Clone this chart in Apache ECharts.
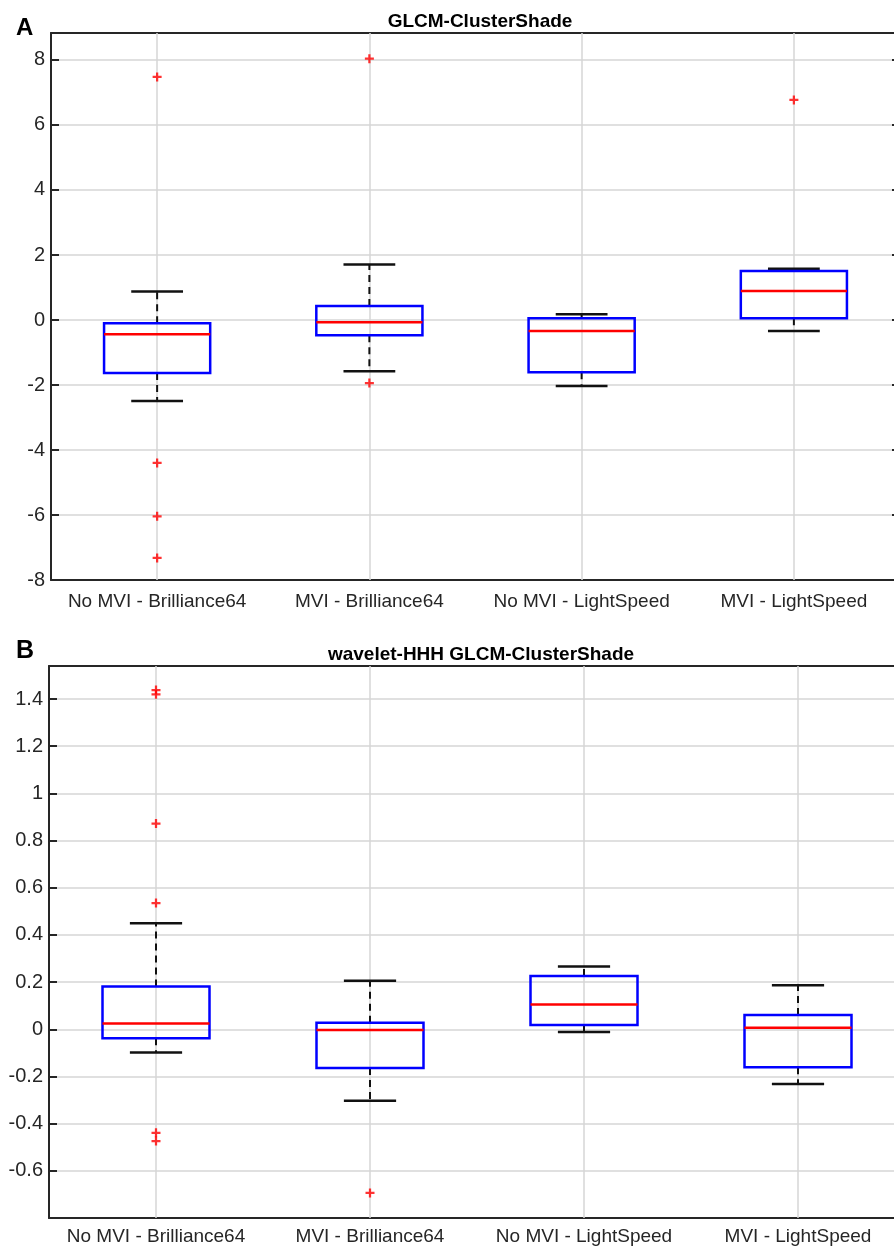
<!DOCTYPE html>
<html>
<head>
<meta charset="utf-8">
<script src="https://cdn.jsdelivr.net/npm/echarts@6/dist/echarts.min.js"></script>
<style>
  html, body { margin: 0; padding: 0; background: #fff; overflow: hidden; }
  #chart { width: 920px; height: 1253px; }
</style>
</head>
<body>
<div id="chart"></div>
<script>
// categories shared by both panels
const categories = ['No MVI - Brilliance64', 'MVI - Brilliance64', 'No MVI - LightSpeed', 'MVI - LightSpeed'];

// panel A: GLCM-ClusterShade  [lower whisker, Q1, median, Q3, upper whisker]
const boxA = [
  [-2.49, -1.63, -0.44, -0.10, 0.88],
  [-1.58, -0.47, -0.07, 0.43, 1.71],
  [-2.03, -1.61, -0.34, 0.05, 0.175],
  [-0.34, 0.05, 0.89, 1.51, 1.58]
];
const outliersA = [[0, 7.48], [0, -4.40], [0, -6.04], [0, -7.32], [1, 8.04], [1, -1.94], [3, 6.77]];
const yTicksA = { min: -8, max: 8.83, interval: 2 };

// panel B: wavelet-HHH GLCM-ClusterShade
const boxB = [
  [-0.098, -0.038, 0.024, 0.181, 0.45],
  [-0.303, -0.164, -0.003, 0.028, 0.206],
  [-0.011, 0.018, 0.105, 0.226, 0.266],
  [-0.232, -0.161, 0.006, 0.061, 0.187]
];
const outliersB = [[0, 1.438], [0, 1.42], [0, 0.872], [0, 0.535], [0, -0.439], [0, -0.474], [1, -0.694]];
const yTicksB = { min: -0.8, max: 1.54, interval: 0.2 };

const font = "'Liberation Sans', Arial, sans-serif";
const axisColor = '#262626';
const gridColor = '#d6d6d6';
const plus = 'path://M3,0H5V3H8V5H5V8H3V5H0V3H3Z';

function xAxes(gi, labelMargin) {
  return [
    {
      gridIndex: gi, type: 'category', data: categories, position: 'bottom', boundaryGap: true,
      axisLine: { onZero: false, lineStyle: { color: axisColor, width: 2 } },
      axisTick: { inside: true, alignWithLabel: true, length: 10, lineStyle: { color: axisColor, width: 2 } },
      axisLabel: { color: axisColor, fontSize: 19, fontFamily: font, margin: labelMargin, interval: 0 },
      splitLine: { show: false }
    },
    {
      gridIndex: gi, type: 'category', data: categories, position: 'top', boundaryGap: true,
      axisLine: { onZero: false, lineStyle: { color: axisColor, width: 2 } },
      axisTick: { inside: true, alignWithLabel: true, length: 10, lineStyle: { color: axisColor, width: 2 } },
      axisLabel: { show: false },
      splitLine: { show: false }
    }
  ];
}

function yAxes(gi, t) {
  return [
    {
      gridIndex: gi, type: 'value', min: t.min, max: t.max, interval: t.interval, position: 'left',
      axisLine: { show: true, onZero: false, lineStyle: { color: axisColor, width: 2 } },
      axisTick: { show: true, inside: true, length: 8, lineStyle: { color: axisColor, width: 2 } },
      axisLabel: { color: axisColor, fontSize: 20, fontFamily: font, margin: 6, showMaxLabel: false, showMinLabel: gi === 0 },
      splitLine: { show: true, lineStyle: { color: gridColor, width: 1.5 } }
    },
    {
      gridIndex: gi, type: 'value', min: t.min, max: t.max, interval: t.interval, position: 'right',
      axisLine: { show: true, onZero: false, lineStyle: { color: axisColor, width: 2 } },
      axisTick: { show: true, inside: true, length: 8, lineStyle: { color: axisColor, width: 2 } },
      axisLabel: { show: false },
      splitLine: { show: false }
    }
  ];
}

// box, median and whiskers drawn MATLAB style
function renderBox(params, api) {
  const x = api.value(0);
  const p = v => api.coord([x, v]);
  const lo = p(api.value(1)), q1 = p(api.value(2)), med = p(api.value(3)), q3 = p(api.value(4)), hi = p(api.value(5));
  const band = api.size([1, 0])[0];
  const bw = band * 0.25;
  const cw = band * 0.122;
  const cx = lo[0];
  const dash = { stroke: '#111', lineWidth: 2, lineDash: [7, 5] };
  const solid = { stroke: '#111', lineWidth: 2.5 };
  return {
    type: 'group',
    children: [
      { type: 'line', shape: { x1: cx, y1: q3[1], x2: cx, y2: hi[1] }, style: dash },
      { type: 'line', shape: { x1: cx, y1: q1[1], x2: cx, y2: lo[1] }, style: dash },
      { type: 'line', shape: { x1: cx - cw, y1: hi[1], x2: cx + cw, y2: hi[1] }, style: solid },
      { type: 'line', shape: { x1: cx - cw, y1: lo[1], x2: cx + cw, y2: lo[1] }, style: solid },
      { type: 'rect', shape: { x: cx - bw, y: q3[1], width: 2 * bw, height: q1[1] - q3[1] },
        style: { fill: 'none', stroke: '#0000ff', lineWidth: 2.5 } },
      { type: 'line', shape: { x1: cx - bw, y1: med[1], x2: cx + bw, y2: med[1] },
        style: { stroke: '#ff0000', lineWidth: 2.5 } }
    ]
  };
}

function panelSeries(gi, boxes, outliers) {
  return [
    {
      // vertical grid lines at the category centres
      type: 'scatter', xAxisIndex: gi * 2, yAxisIndex: gi * 2, data: [], z: 1, silent: true,
      markLine: {
        z: 1, silent: true, symbol: 'none', label: { show: false },
        lineStyle: { color: gridColor, width: 1.5, type: 'solid' },
        data: categories.map(c => ({ xAxis: c }))
      }
    },
    {
      type: 'custom', xAxisIndex: gi * 2, yAxisIndex: gi * 2, z: 3,
      encode: { x: 0, y: [1, 2, 3, 4, 5] },
      data: boxes.map((b, i) => [i].concat(b)),
      renderItem: renderBox
    },
    {
      type: 'scatter', xAxisIndex: gi * 2, yAxisIndex: gi * 2, z: 4,
      symbol: plus, symbolSize: 9,
      itemStyle: { color: '#ff0000' },
      data: outliers
    }
  ];
}

const chart = echarts.init(document.getElementById('chart'));
chart.setOption({
  backgroundColor: '#fff',
  animation: false,
  title: [
    { text: 'A', left: 11, top: 11, textStyle: { fontSize: 24, fontWeight: 'bold', color: '#000', fontFamily: font } },
    { text: 'GLCM-ClusterShade', left: 475, top: 7, textAlign: 'center',
      textStyle: { fontSize: 19, fontWeight: 'bold', color: '#000', fontFamily: font } },
    { text: 'B', left: 11, top: 634, textStyle: { fontSize: 25, fontWeight: 'bold', color: '#000', fontFamily: font } },
    { text: 'wavelet-HHH GLCM-ClusterShade', left: 476, top: 640, textAlign: 'center',
      textStyle: { fontSize: 19, fontWeight: 'bold', color: '#000', fontFamily: font } }
  ],
  grid: [
    { left: 51, top: 33, width: 849, height: 547 },
    { left: 49, top: 666, width: 856, height: 552 }
  ],
  xAxis: xAxes(0, 12).concat(xAxes(1, 9)),
  yAxis: yAxes(0, yTicksA).concat(yAxes(1, yTicksB)),
  series: panelSeries(0, boxA, outliersA).concat(panelSeries(1, boxB, outliersB))
});
</script>
</body>
</html>
